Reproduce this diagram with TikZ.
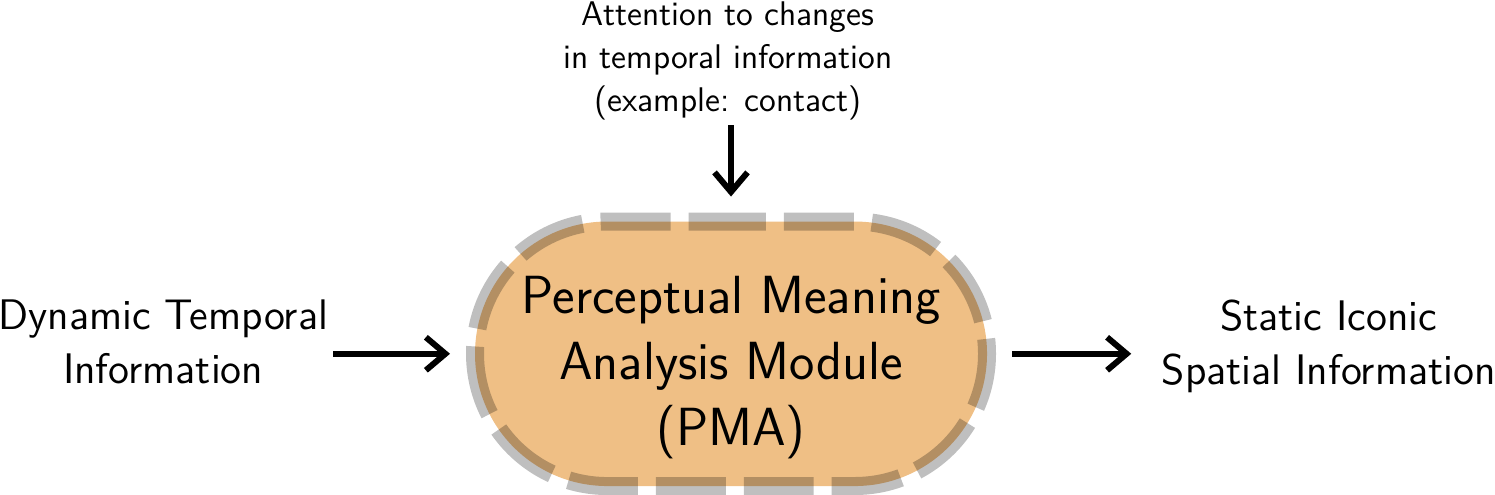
\documentclass[tikz,border=0pt]{standalone}
\usetikzlibrary{arrows.meta,calc}
\definecolor{pmafill}{RGB}{239,191,133}
\tikzset{
  every node/.style={font=\sffamily},
  arr/.style={line width=2pt,-{Straight Barb[length=6.5pt,width=11pt]}},
  toptext/.style={align=center,inner sep=0pt,font=\sffamily\fontsize{11.4pt}{14.3pt}\selectfont},
  sidetext/.style={align=center,inner sep=0pt,font=\sffamily\fontsize{14.25pt}{18pt}\selectfont},
  maintext/.style={align=center,inner sep=0pt,font=\sffamily\fontsize{17.9pt}{22pt}\selectfont},
  pmashape/.style={rectangle,rounded corners=44.08pt,minimum width=170.67pt,minimum height=88.17pt,inner sep=0pt,outer sep=0pt,fill=pmafill},
  pmaborder/.style={draw=black,draw opacity=0.25,line width=6pt,dash pattern=on 23.3pt off 6pt,dash phase=11.67pt}
}
\begin{document}
\begin{tikzpicture}[x=1pt,y=1pt]
\useasboundingbox (0,0) rectangle (498.33,-165);
\node[pmashape] (pma) at (243.67,-117.93) {};
\draw[pmaborder] (pma.north) -- ([xshift=41.25pt]pma.north) arc[start angle=90,end angle=-90,radius=44.08pt]
  -- ([xshift=-41.25pt]pma.south) arc[start angle=270,end angle=90,radius=44.08pt] -- cycle;
\node[maintext] (pmatext) at ([yshift=-4.67pt]pma.center) {Perceptual Meaning\\Analysis Module\\(PMA)};
\node[toptext,anchor=north] (att) at (242.67,-0.4) {Attention to changes\\in temporal information\\(example: contact)};
\node[sidetext] (dyn) at (54.4,-113.9) {Dynamic Temporal\\Information};
\node[sidetext] (stat) at (442.9,-115.3) {Static Iconic\\Spatial Information};
\draw[arr,shorten <=1.5pt,shorten >=8.33pt] (att.south -| pma.north) -- (pma.north);
\draw[arr,shorten <=1.5pt,shorten >=8.33pt] (dyn.east |- pma.west) -- (pma.west);
\draw[arr,shorten <=8.33pt,shorten >=10pt] (pma.east) -- (stat.west |- pma.east);
\end{tikzpicture}
\end{document}
